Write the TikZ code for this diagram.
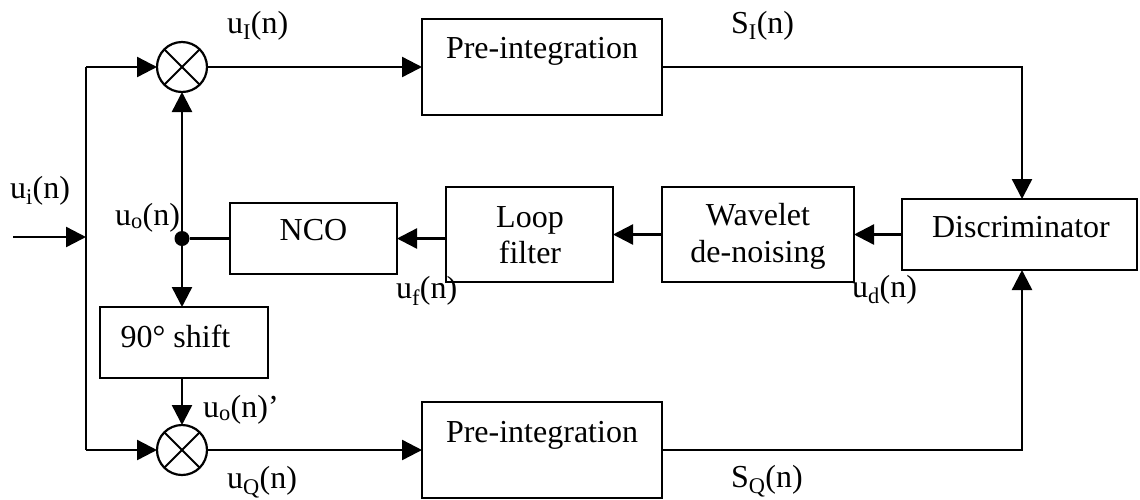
\documentclass[tikz,border=0pt]{standalone}
\usepackage{fontspec}
\setmainfont{Liberation Serif}
\usetikzlibrary{arrows.meta}
\begin{document}
\begin{tikzpicture}[x=1pt,y=-1pt,
  every node/.style={font=\fontsize{32}{37}\selectfont, inner sep=0pt, outer sep=0pt},
  blk/.style={draw, line width=2.4pt},
  wire/.style={line width=2.4pt},
  arr/.style={wire, -{Triangle[length=20pt,width=20pt]}},
  mult/.style={draw, circle, line width=2.2pt, minimum size=50pt},
  lbl/.style={anchor=base west},
  txt/.style={anchor=base}]
\useasboundingbox (0,0) rectangle (1140,499);

% blocks
\node[blk, minimum width=240pt, minimum height=96pt] (pre1) at (542,67) {};
\node[blk, minimum width=240pt, minimum height=96pt] (pre2) at (542,450) {};
\node[blk, minimum width=235pt, minimum height=71pt] (disc) at (1019.5,234.5) {};
\node[blk, minimum width=192pt, minimum height=95pt] (wav) at (758,234.5) {};
\node[blk, minimum width=167pt, minimum height=95pt] (loop) at (529.5,234.5) {};
\node[blk, minimum width=167pt, minimum height=71pt] (nco) at (313.5,238.5) {};
\node[blk, minimum width=168pt, minimum height=71pt] (shift) at (184,342.5) {};

% block texts
\node[txt] (t-pre1) at (542,58) {Pre-integration};
\node[txt] (t-pre2) at (542,442) {Pre-integration};
\node[txt] (t-disc) at (1021,237) {Discriminator};
\node[txt] (t-wav1) at (758,225) {Wavelet};
\node[txt] (t-wav2) at (758,262) {de-noising};
\node[txt] (t-loop1) at (530,227) {Loop};
\node[txt] (t-loop2) at (530,263) {filter};
\node[txt] (t-nco) at (313.5,240) {NCO};
\node[txt] (t-shift) at (175.5,347) {90° shift};

% multipliers
\node[mult] (m1) at (182,67) {};
\node[mult] (m2) at (182,450) {};
\foreach \m in {m1,m2} {
  \draw[line width=2pt] (\m.north west) -- (\m.south east);
  \draw[line width=2pt] (\m.north east) -- (\m.south west);
}

% branch point
\node[circle, fill, minimum size=15pt] (dot) at (182,238.5) {};

% input and split
\coordinate (in) at (13,237);
\coordinate (split) at (86,237);
\coordinate (top) at (86,67);
\coordinate (bot) at (86,450);
\draw[arr] (in) -- (split);
\draw[wire] (top) -- (bot);
\draw[arr] (top) -- (m1.west);
\draw[arr] (bot) -- (m2.west);

% oscillator branch
\draw[arr] (dot) -- (m1.south);
\draw[arr] (dot) -- (dot |- shift.north);
\draw[wire] (dot) -- (nco.west);
\draw[arr] (shift.south -| m2.north) -- (m2.north);

% I and Q paths
\draw[arr] (m1.east) -- (pre1.west);
\draw[arr] (m2.east) -- (pre2.west);
\draw[arr] (pre1.east) -| ([xshift=2.5pt]disc.north);
\draw[arr] (pre2.east) -| ([xshift=2.5pt]disc.south);

% feedback loop
\draw[arr] (disc.west) -- (wav.east);
\draw[arr] (wav.west) -- (loop.east);
\draw[arr] (loop.west |- nco.east) -- (nco.east);

% signal labels
\node[lbl] (l-ui) at (10,198) {u\textsubscript{i}(n)};
\node[lbl] (l-uI) at (227,33) {u\textsubscript{I}(n)};
\node[lbl] (l-uo) at (115,225) {u\textsubscript{o}(n)};
\node[lbl] (l-uop) at (203,417) {u\textsubscript{o}(n)’};
\node[lbl] (l-uQ) at (227,488) {u\textsubscript{Q}(n)};
\node[lbl] (l-SI) at (731,33) {S\textsubscript{I}(n)};
\node[lbl] (l-SQ) at (731,487) {S\textsubscript{Q}(n)};
\node[lbl] (l-uf) at (396,298) {u\textsubscript{f}(n)};
\node[lbl] (l-ud) at (852,297) {u\textsubscript{d}(n)};
\end{tikzpicture}
\end{document}
